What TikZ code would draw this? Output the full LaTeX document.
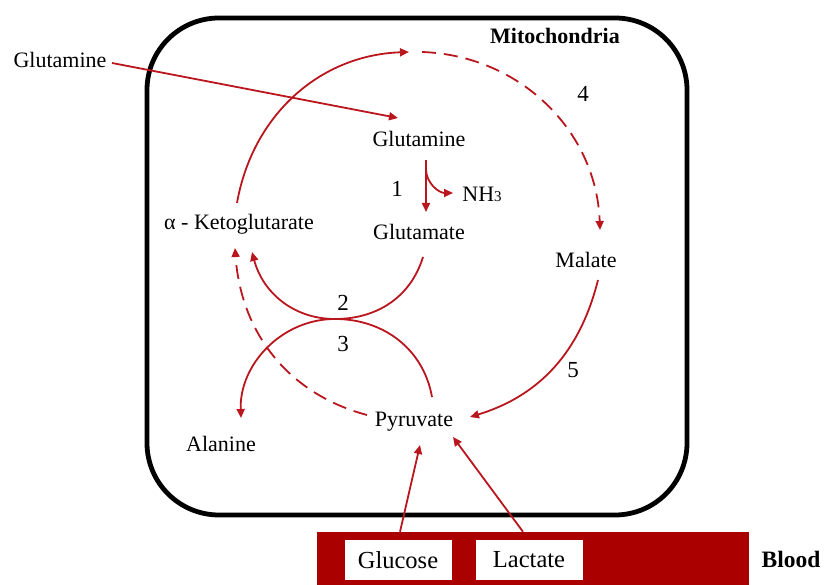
\documentclass[tikz,border=0pt]{standalone}
\usepackage{fontspec}
\setmainfont{Liberation Serif}
\usetikzlibrary{positioning,calc,arrows.meta}
\definecolor{pathred}{RGB}{186,22,30}
\definecolor{bloodred}{RGB}{170,0,0}

\begin{document}
\begin{tikzpicture}[x=1pt,y=1pt,
  lbl/.style={anchor=base,inner sep=0pt,font=\fontsize{22}{24}\selectfont},
  num/.style={anchor=base,inner sep=0pt,font=\fontsize{23}{25}\selectfont},
  rxn/.style={draw=pathred,line width=1.8pt,-{Triangle[length=9pt,width=8pt]}},
  rxndash/.style={rxn,dash pattern=on 14pt off 8pt},
  inbox/.style={fill=white,inner sep=0pt,minimum width=107pt,minimum height=40pt,
    font=\fontsize{24.5}{26}\selectfont}]
  \useasboundingbox (0,0) rectangle (828,585);
  % mitochondrion
  \draw[line width=4.8pt,rounded corners=72pt] (147,70) rectangle (687,567);
  \node[lbl,font=\fontsize{22}{24}\selectfont\bfseries] (mito) at (555,541) {Mitochondria};
  % metabolites
  \node[lbl] (glnout) at (60,517) {Glutamine};
  \node[lbl] (glnin) at (419,438) {Glutamine};
  \node[lbl] (glu) at (419,345) {Glutamate};
  \node[lbl] (nh3) at (482,383) {NH{\fontsize{15}{16}\selectfont 3}};
  \node[lbl] (akg) at (239,355) {α - Ketoglutarate};
  \node[lbl] (mal) at (586,317) {Malate};
  \node[lbl] (pyr) at (414,158) {Pyruvate};
  \node[lbl] (ala) at (221,133) {Alanine};
  \coordinate (tca) at (415,533);
  \coordinate (touch) at (335,266);
  % step numbers
  \node[num] (n1) at (397,388) {1};
  \node[num] (n2) at (343,274) {2};
  \node[num] (n3) at (343,233) {3};
  \node[num] (n4) at (583,483) {4};
  \node[num] (n5) at (573,207) {5};
  % blood
  \fill[bloodred] (317,0) rectangle (749,53);
  \node[inbox] (gluc) at (398,25) {Glucose};
  \node[inbox] (lac) at (529,25) {Lactate};
  \node[lbl,font=\fontsize{23.5}{25}\selectfont\bfseries] (blood) at (791,17) {Blood};

  % uptake
  \draw[rxn] ($(glnout.base)+(52,5)$) -- ($(glnin.base)+(-21,29)$);
  \draw[rxn] ($(gluc.north)+(2,8)$) -- ($(pyr.base)+(6,-18)$);
  \draw[rxn] ($(lac.north)+(-6,8)$) -- ($(pyr.base)+(39,-10)$);
  % step 1
  \draw[rxn] ($(glnin.base)+(7,-13)$) -- ($(glu.base)+(7,28)$);
  \draw[rxn] ($(glnin.base)+(7,-22)$) to[out=-90,in=180] ($(nh3.base)+(-29,9)$);
  % cycle
  \draw[rxn] ($(akg.base)+(-2,27)$) to[out=80,in=182] ([xshift=-6pt]tca);
  \draw[rxndash] ([xshift=7pt]tca) to[out=-2,in=92] ($(mal.base)+(14,38)$);
  \draw[rxn] ($(mal.base)+(12,-12)$) to[out=-104,in=17] ($(pyr.base)+(56,10)$);
  \draw[rxndash] ($(pyr.base)+(-47,12)$) to[out=165,in=-86] ($(akg.base)+(-4,-18)$);
  % steps 2 and 3
  \draw[rxn] ($(glu.base)+(4,-17)$) to[out=-107,in=0] (touch) to[out=180,in=-75] ($(akg.base)+(13,-22)$);
  \draw[rxn] ($(pyr.base)+(18,30)$) to[out=100,in=0] (touch) to[out=180,in=92] ($(ala.base)+(20,34)$);
\end{tikzpicture}
\end{document}
